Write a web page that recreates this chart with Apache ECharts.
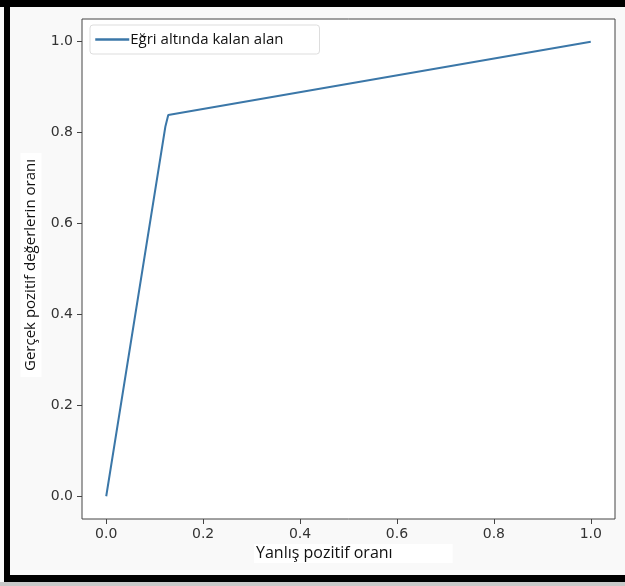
<!DOCTYPE html>
<html>
<head>
<meta charset="utf-8">
<script src="https://cdn.jsdelivr.net/npm/echarts@6/dist/echarts.min.js"></script>
<style>
  html, body { margin: 0; padding: 0; background: #f9f9f9; }
  #chart { width: 625px; height: 586px; }
</style>
</head>
<body>
<div id="chart"></div>
<script>
// ROC curve values
const fpr = [0, 0.122, 0.128, 1];
const tpr = [0, 0.813, 0.839, 1];
const tickValues = [0, 0.2, 0.4, 0.6, 0.8, 1.0];
const seriesName = 'Eğri altında kalan alan';
const xLabel = 'Yanlış pozitif oranı';
const yLabel = 'Gerçek pozitif değerlerin oranı';

const chart = echarts.init(document.getElementById('chart'));

const tickText = { color: '#333', fontFamily: 'DejaVu Sans', fontSize: 14 };

chart.setOption({
  backgroundColor: '#f9f9f9',
  animation: false,
  grid: {
    left: 82,
    right: 10,
    top: 19,
    bottom: 67,
    show: true,
    backgroundColor: '#fff',
    borderColor: '#444',
    borderWidth: 1
  },
  legend: {
    left: 90,
    top: 25,
    data: [seriesName],
    itemWidth: 34,
    itemHeight: 12,
    itemGap: 0,
    itemStyle: { opacity: 0 },
    lineStyle: { width: 2.5 },
    padding: [7, 36, 7, 4],
    borderColor: '#ddd',
    borderWidth: 1,
    borderRadius: 3,
    textStyle: { fontFamily: 'Open Sans', fontSize: 15, color: '#111', padding: [0, 0, 0, -4] }
  },
  xAxis: {
    type: 'value',
    min: -0.05,
    max: 1.05,
    splitLine: { show: false },
    axisLine: { show: false, onZero: false },
    axisTick: { show: true, customValues: tickValues, length: 5, lineStyle: { color: '#444' } },
    axisLabel: Object.assign({ customValues: tickValues, margin: 8, formatter: v => v.toFixed(1) }, tickText)
  },
  yAxis: {
    type: 'value',
    min: -0.05,
    max: 1.05,
    splitLine: { show: false },
    axisLine: { show: false, onZero: false },
    axisTick: { show: true, customValues: tickValues, length: 5, lineStyle: { color: '#444' } },
    axisLabel: Object.assign({ customValues: tickValues, margin: 9, formatter: v => v.toFixed(1) }, tickText)
  },
  series: [{
    name: seriesName,
    type: 'line',
    data: fpr.map((x, i) => [x, tpr[i]]),
    symbol: 'none',
    lineStyle: { color: '#3b77a8', width: 2 },
    itemStyle: { color: '#3b77a8' }
  }],
  graphic: [
    // black photo frame
    { type: 'rect', shape: { x: 0, y: 0, width: 625, height: 7 }, style: { fill: '#000' }, silent: true },
    { type: 'rect', shape: { x: 4, y: 0, width: 6, height: 582 }, style: { fill: '#000' }, silent: true },
    { type: 'rect', shape: { x: 4, y: 575, width: 621, height: 7 }, style: { fill: '#000' }, silent: true },
    { type: 'rect', shape: { x: 0, y: 582, width: 625, height: 4 }, style: { fill: '#c8c8c8' }, silent: true },
    // axis titles on white patches
    {
      type: 'text', left: 254, top: 544,
      style: {
        text: xLabel, fontFamily: 'Open Sans', fontSize: 16, fill: '#111',
        backgroundColor: '#fff', padding: [1, 60, 2, 2]
      }
    },
    {
      type: 'text', x: 31, y: 265, rotation: Math.PI / 2,
      style: {
        text: yLabel, fontFamily: 'Open Sans', fontSize: 15, fill: '#111',
        align: 'center', verticalAlign: 'middle',
        backgroundColor: '#fff', padding: [3, 6, 3, 6]
      }
    }
  ]
});
</script>
</body>
</html>
